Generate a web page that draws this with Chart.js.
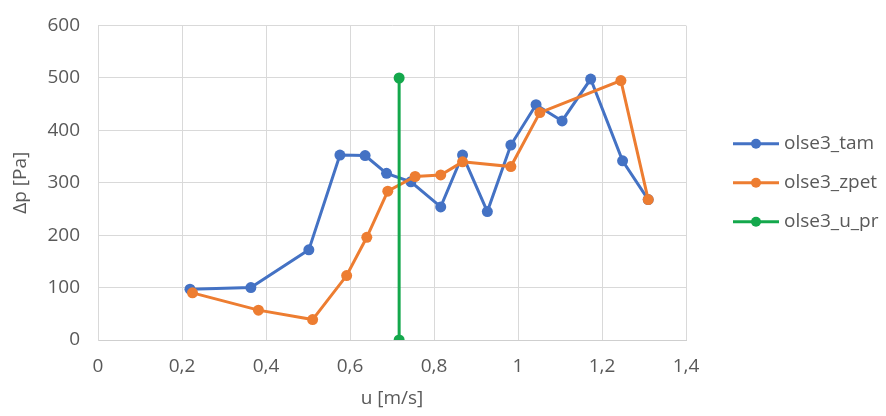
<!DOCTYPE html>
<html>
<head>
<meta charset="utf-8">
<script src="https://cdn.jsdelivr.net/npm/chart.js@4"></script>
<style>
  html, body { margin: 0; padding: 0; background: #fff; }
  canvas { display: block; }
</style>
</head>
<body>
<canvas id="dataChart" width="886" height="416"></canvas>
<script>
// Measured series: flow velocity u [m/s] vs pressure drop Δp [Pa]
const tamU = [0.219, 0.364, 0.502, 0.576, 0.636, 0.687, 0.745, 0.816, 0.868, 0.927, 0.983, 1.043, 1.105, 1.173, 1.249, 1.31];
const tamDp = [97, 100, 172, 353, 352, 318, 302, 254, 353, 245, 372, 449, 418, 498, 342, 268];

const zpetU = [0.225, 0.382, 0.511, 0.592, 0.64, 0.69, 0.755, 0.816, 0.868, 0.983, 1.052, 1.245, 1.31];
const zpetDp = [90, 57, 39, 123, 196, 284, 312, 315, 340, 331, 434, 495, 268];

// Vertical marker line
const uPrU = [0.717, 0.717];
const uPrDp = [0, 500];

const seriesNames = ["olse3_tam", "olse3_zpet", "olse3_u_pr"];
const seriesColors = ["#4472C4", "#ED7D31", "#14A84C"];

const FONT = "'Open Sans', sans-serif";
const TEXT_COLOR = "#595959";

function toPoints(xs, ys) {
    return xs.map((x, i) => ({ x: x, y: ys[i] }));
}

// Comma as decimal separator on the x axis
function commaTick(value) {
    return String(Number(value.toFixed(1))).replace(".", ",");
}

// Legend on the right: line with a dot, then the series name
const sideLegend = {
    id: "sideLegend",
    afterDraw(chart) {
        const ctx = chart.ctx;
        const area = chart.chartArea;
        const mid = (area.top + area.bottom) / 2;
        const gap = 39;
        const n = chart.data.datasets.length;
        ctx.save();
        chart.data.datasets.forEach((ds, i) => {
            const y = mid + (i - (n - 1) / 2) * gap;
            ctx.strokeStyle = ds.borderColor;
            ctx.lineWidth = 3;
            ctx.beginPath();
            ctx.moveTo(733, y);
            ctx.lineTo(779, y);
            ctx.stroke();
            ctx.fillStyle = ds.borderColor;
            ctx.beginPath();
            ctx.arc(756, y, 5, 0, Math.PI * 2);
            ctx.fill();
            ctx.fillStyle = TEXT_COLOR;
            ctx.font = "19px " + FONT;
            ctx.textAlign = "left";
            ctx.textBaseline = "middle";
            ctx.fillText(ds.label, 784, y);
        });
        ctx.restore();
    }
};

function makeDataset(i, xs, ys, order) {
    return {
        label: seriesNames[i],
        data: toPoints(xs, ys),
        borderColor: seriesColors[i],
        backgroundColor: seriesColors[i],
        borderWidth: 3,
        pointRadius: 5.5,
        pointHoverRadius: 5.5,
        pointBorderWidth: 0,
        showLine: true,
        fill: false,
        tension: 0,
        order: order
    };
}

function createChart() {
    const ctx = document.getElementById("dataChart").getContext("2d");

    new Chart(ctx, {
        type: "scatter",
        data: {
            datasets: [
                makeDataset(0, tamU, tamDp, 3),
                makeDataset(1, zpetU, zpetDp, 2),
                makeDataset(2, uPrU, uPrDp, 1)
            ]
        },
        options: {
            responsive: false,
            animation: false,
            layout: {
                padding: { top: 25, right: 200, left: 0, bottom: 0 }
            },
            plugins: {
                legend: { display: false },
                tooltip: { enabled: false }
            },
            scales: {
                x: {
                    type: "linear",
                    min: 0,
                    max: 1.4,
                    ticks: {
                        stepSize: 0.2,
                        color: TEXT_COLOR,
                        font: { family: FONT, size: 19 },
                        padding: 15,
                        callback: commaTick
                    },
                    grid: { color: "#d9d9d9", lineWidth: 1, drawTicks: false },
                    border: { color: "#cfcfcf", width: 1 },
                    title: {
                        display: true,
                        text: "u [m/s]",
                        color: TEXT_COLOR,
                        font: { family: FONT, size: 19 },
                        padding: { top: 0, bottom: 6 }
                    },
                    afterFit(scale) { scale.height = 76; }
                },
                y: {
                    type: "linear",
                    min: 0,
                    max: 600,
                    ticks: {
                        stepSize: 100,
                        color: TEXT_COLOR,
                        font: { family: FONT, size: 19, lineHeight: 0.8 },
                        padding: 18
                    },
                    grid: { color: "#d9d9d9", lineWidth: 1, drawTicks: false },
                    border: { color: "#d9d9d9", width: 1 },
                    title: {
                        display: true,
                        text: "Δp [Pa]",
                        color: TEXT_COLOR,
                        font: { family: FONT, size: 19 },
                        padding: { top: 9, bottom: 0 }
                    },
                    afterFit(scale) { scale.width = 98; }
                }
            }
        },
        plugins: [sideLegend]
    });
}

createChart();
</script>
</body>
</html>
